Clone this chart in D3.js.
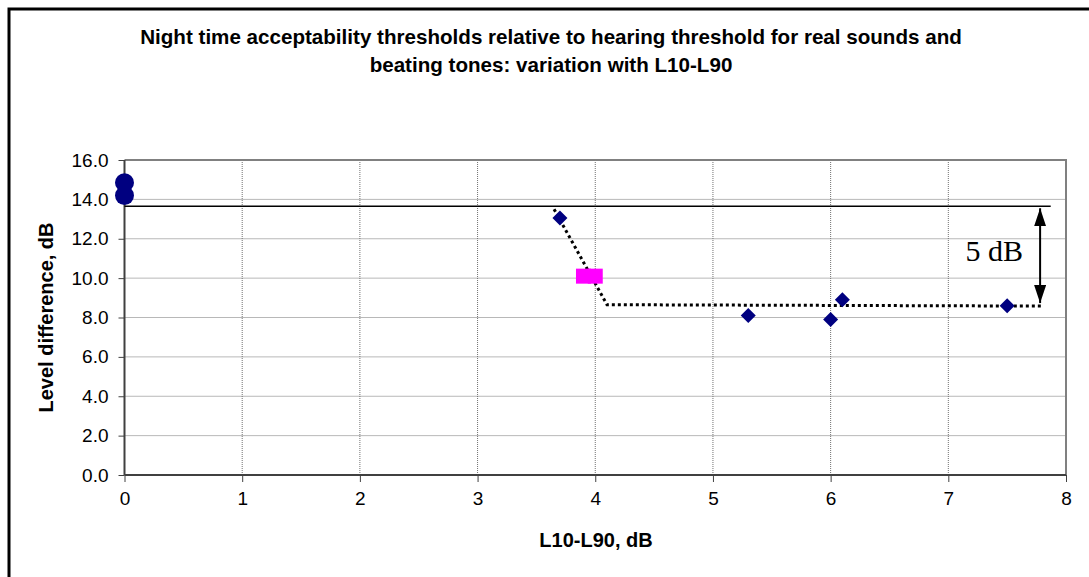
<!DOCTYPE html>
<html>
<head>
<meta charset="utf-8">
<script src="https://cdn.jsdelivr.net/npm/d3@7"></script>
<style>
  body { margin: 0; background: #fff; }
  svg { display: block; }
</style>
</head>
<body>
<div id="chart-area"></div>
<script>

var total_width = 1089;
var total_height = 577;

// data
var realSounds = [ {x:0, y:14.85}, {x:0, y:14.2} ];                  // circles
var beatingTones = [ {x:3.7, y:13.05}, {x:5.3, y:8.1}, {x:6.0, y:7.9},
                     {x:6.1, y:8.9}, {x:7.5, y:8.6} ];                // diamonds
var otherPts = [ {x:3.9, y:10.1}, {x:4.0, y:10.1} ];                 // magenta squares
var trendLine = [ {x:3.65, y:13.5}, {x:4.1, y:8.65}, {x:7.8, y:8.58} ];
var refLevel = 13.65;
var refLineX = [0, 7.87];
var arrowX = 7.78;
var arrowLabel = "5 dB";
var xTicks = [0,1,2,3,4,5,6,7,8];
var yTicks = [0,2,4,6,8,10,12,14,16];
var titleLines = ["Night time acceptability thresholds relative to hearing threshold for real sounds and",
                  "beating tones: variation with L10-L90"];

var font = "Liberation Sans, Arial, sans-serif";

var svg = d3.select('#chart-area').append('svg')
            .attr("width", total_width)
            .attr("height", total_height);

// outer frame
svg.append("rect")
   .attr("x", 9).attr("y", 9)
   .attr("width", 1200).attr("height", 700)
   .attr("fill", "none")
   .attr("stroke", "#000")
   .attr("stroke-width", 3);

var margin = {left:124.5, top:160, right:1066, bottom:475};

var x = d3.scaleLinear().domain([0,8]).range([margin.left, margin.right]);
var y = d3.scaleLinear().domain([0,16]).range([margin.bottom, margin.top]);

// title
svg.append("text")
   .attr("x", 551).attr("y", 44)
   .attr("text-anchor", "middle")
   .attr("font-family", font)
   .attr("font-weight", "bold")
   .attr("font-size", "20.6px")
   .selectAll("tspan").data(titleLines).enter().append("tspan")
   .attr("x", 551)
   .attr("dy", (d,i) => i == 0 ? 0 : 28)
   .text(d => d);

// grid
var grid = svg.append("g");
grid.selectAll(".vg").data(xTicks.filter(d => d > 0 && d < 8)).enter().append("line")
    .attr("x1", d => x(d)).attr("x2", d => x(d))
    .attr("y1", y(16)).attr("y2", y(0))
    .attr("stroke", "#707070").attr("stroke-width", 1)
    .attr("stroke-dasharray", "1,1");
grid.selectAll(".hg").data(yTicks.filter(d => d > 0 && d < 16)).enter().append("line")
    .attr("x1", x(0)).attr("x2", x(8))
    .attr("y1", d => y(d)).attr("y2", d => y(d))
    .attr("stroke", "#707070").attr("stroke-width", 1)
    .attr("stroke-dasharray", "1,1");

// plot border (top / right)
svg.append("path")
   .attr("d", "M" + x(0) + "," + y(16) + "H" + x(8) + "V" + y(0))
   .attr("fill", "none").attr("stroke", "#808080").attr("stroke-width", 2);

// axes
var xAxis = d3.axisBottom(x).tickValues(xTicks).tickSize(7).tickPadding(10)
              .tickFormat(d3.format("d"));
var yAxis = d3.axisLeft(y).tickValues(yTicks).tickSize(6).tickPadding(10)
              .tickFormat(d3.format(".1f"));

var gx = svg.append("g").attr("transform", "translate(0," + y(0) + ")").call(xAxis);
var gy = svg.append("g").attr("transform", "translate(" + x(0) + ",0)").call(yAxis);

[gx, gy].forEach(function(g){
  g.select(".domain").attr("stroke", "#404040").attr("stroke-width", 2);
  g.selectAll(".tick line").attr("stroke", "#404040");
  g.selectAll("text").attr("font-family", font)
                     .attr("font-size", "19px").attr("fill", "#000");
});
gx.select(".domain").attr("d", "M" + x(0) + ",0H" + x(8));
gy.select(".domain").attr("d", "M0," + y(0) + "V" + y(16));

svg.append("text")
   .attr("x", 596).attr("y", 547)
   .attr("text-anchor", "middle")
   .attr("font-family", font)
   .attr("font-weight", "bold").attr("font-size", "20px")
   .text("L10-L90, dB");

svg.append("text")
   .attr("transform", "translate(53," + ((y(0)+y(16))/2) + ") rotate(-90)")
   .attr("text-anchor", "middle")
   .attr("font-family", font)
   .attr("font-weight", "bold").attr("font-size", "20px")
   .text("Level difference, dB");

// reference level line
svg.append("line")
   .attr("x1", x(refLineX[0])).attr("x2", x(refLineX[1]))
   .attr("y1", y(refLevel)).attr("y2", y(refLevel))
   .attr("stroke", "#000").attr("stroke-width", 1.5);

// dotted trend line
var lineFunction = d3.line().x(d => x(d.x)).y(d => y(d.y));
svg.append("path")
   .datum(trendLine)
   .attr("d", lineFunction)
   .attr("fill", "none")
   .attr("stroke", "#000")
   .attr("stroke-width", 3)
   .attr("stroke-dasharray", "3,3");

// arrow
var defs = svg.append("defs");
defs.append("marker")
    .attr("id", "ah")
    .attr("viewBox", "0 0 18 12")
    .attr("refX", 18).attr("refY", 6)
    .attr("markerWidth", 18).attr("markerHeight", 12)
    .attr("markerUnits", "userSpaceOnUse")
    .attr("orient", "auto-start-reverse")
    .append("path").attr("d", "M0,0L18,6L0,12Z").attr("fill", "#000");

svg.append("line")
   .attr("x1", x(arrowX)).attr("x2", x(arrowX))
   .attr("y1", y(refLevel) + 2).attr("y2", y(trendLine[2].y) - 3)
   .attr("stroke", "#000").attr("stroke-width", 2)
   .attr("marker-start", "url(#ah)")
   .attr("marker-end", "url(#ah)");

svg.append("text")
   .attr("x", x(7.39)).attr("y", y(10.85))
   .attr("text-anchor", "middle")
   .attr("font-family", "Liberation Serif, Times New Roman, serif")
   .attr("font-size", "30px")
   .text(arrowLabel);

// markers
svg.selectAll(".sq").data(otherPts).enter().append("rect")
   .attr("x", d => x(d.x) - 7.5).attr("y", d => y(d.y) - 7.5)
   .attr("width", 15).attr("height", 15)
   .attr("fill", "#ff00ff");

svg.selectAll(".dia").data(beatingTones).enter().append("path")
   .attr("transform", d => "translate(" + x(d.x) + "," + y(d.y) + ")")
   .attr("d", "M0,-7.5L7.5,0L0,7.5L-7.5,0Z")
   .attr("fill", "#000080");

svg.selectAll(".circ").data(realSounds).enter().append("circle")
   .attr("cx", d => x(d.x)).attr("cy", d => y(d.y))
   .attr("r", 9.5)
   .attr("fill", "#000080");

</script>
</body>
</html>
